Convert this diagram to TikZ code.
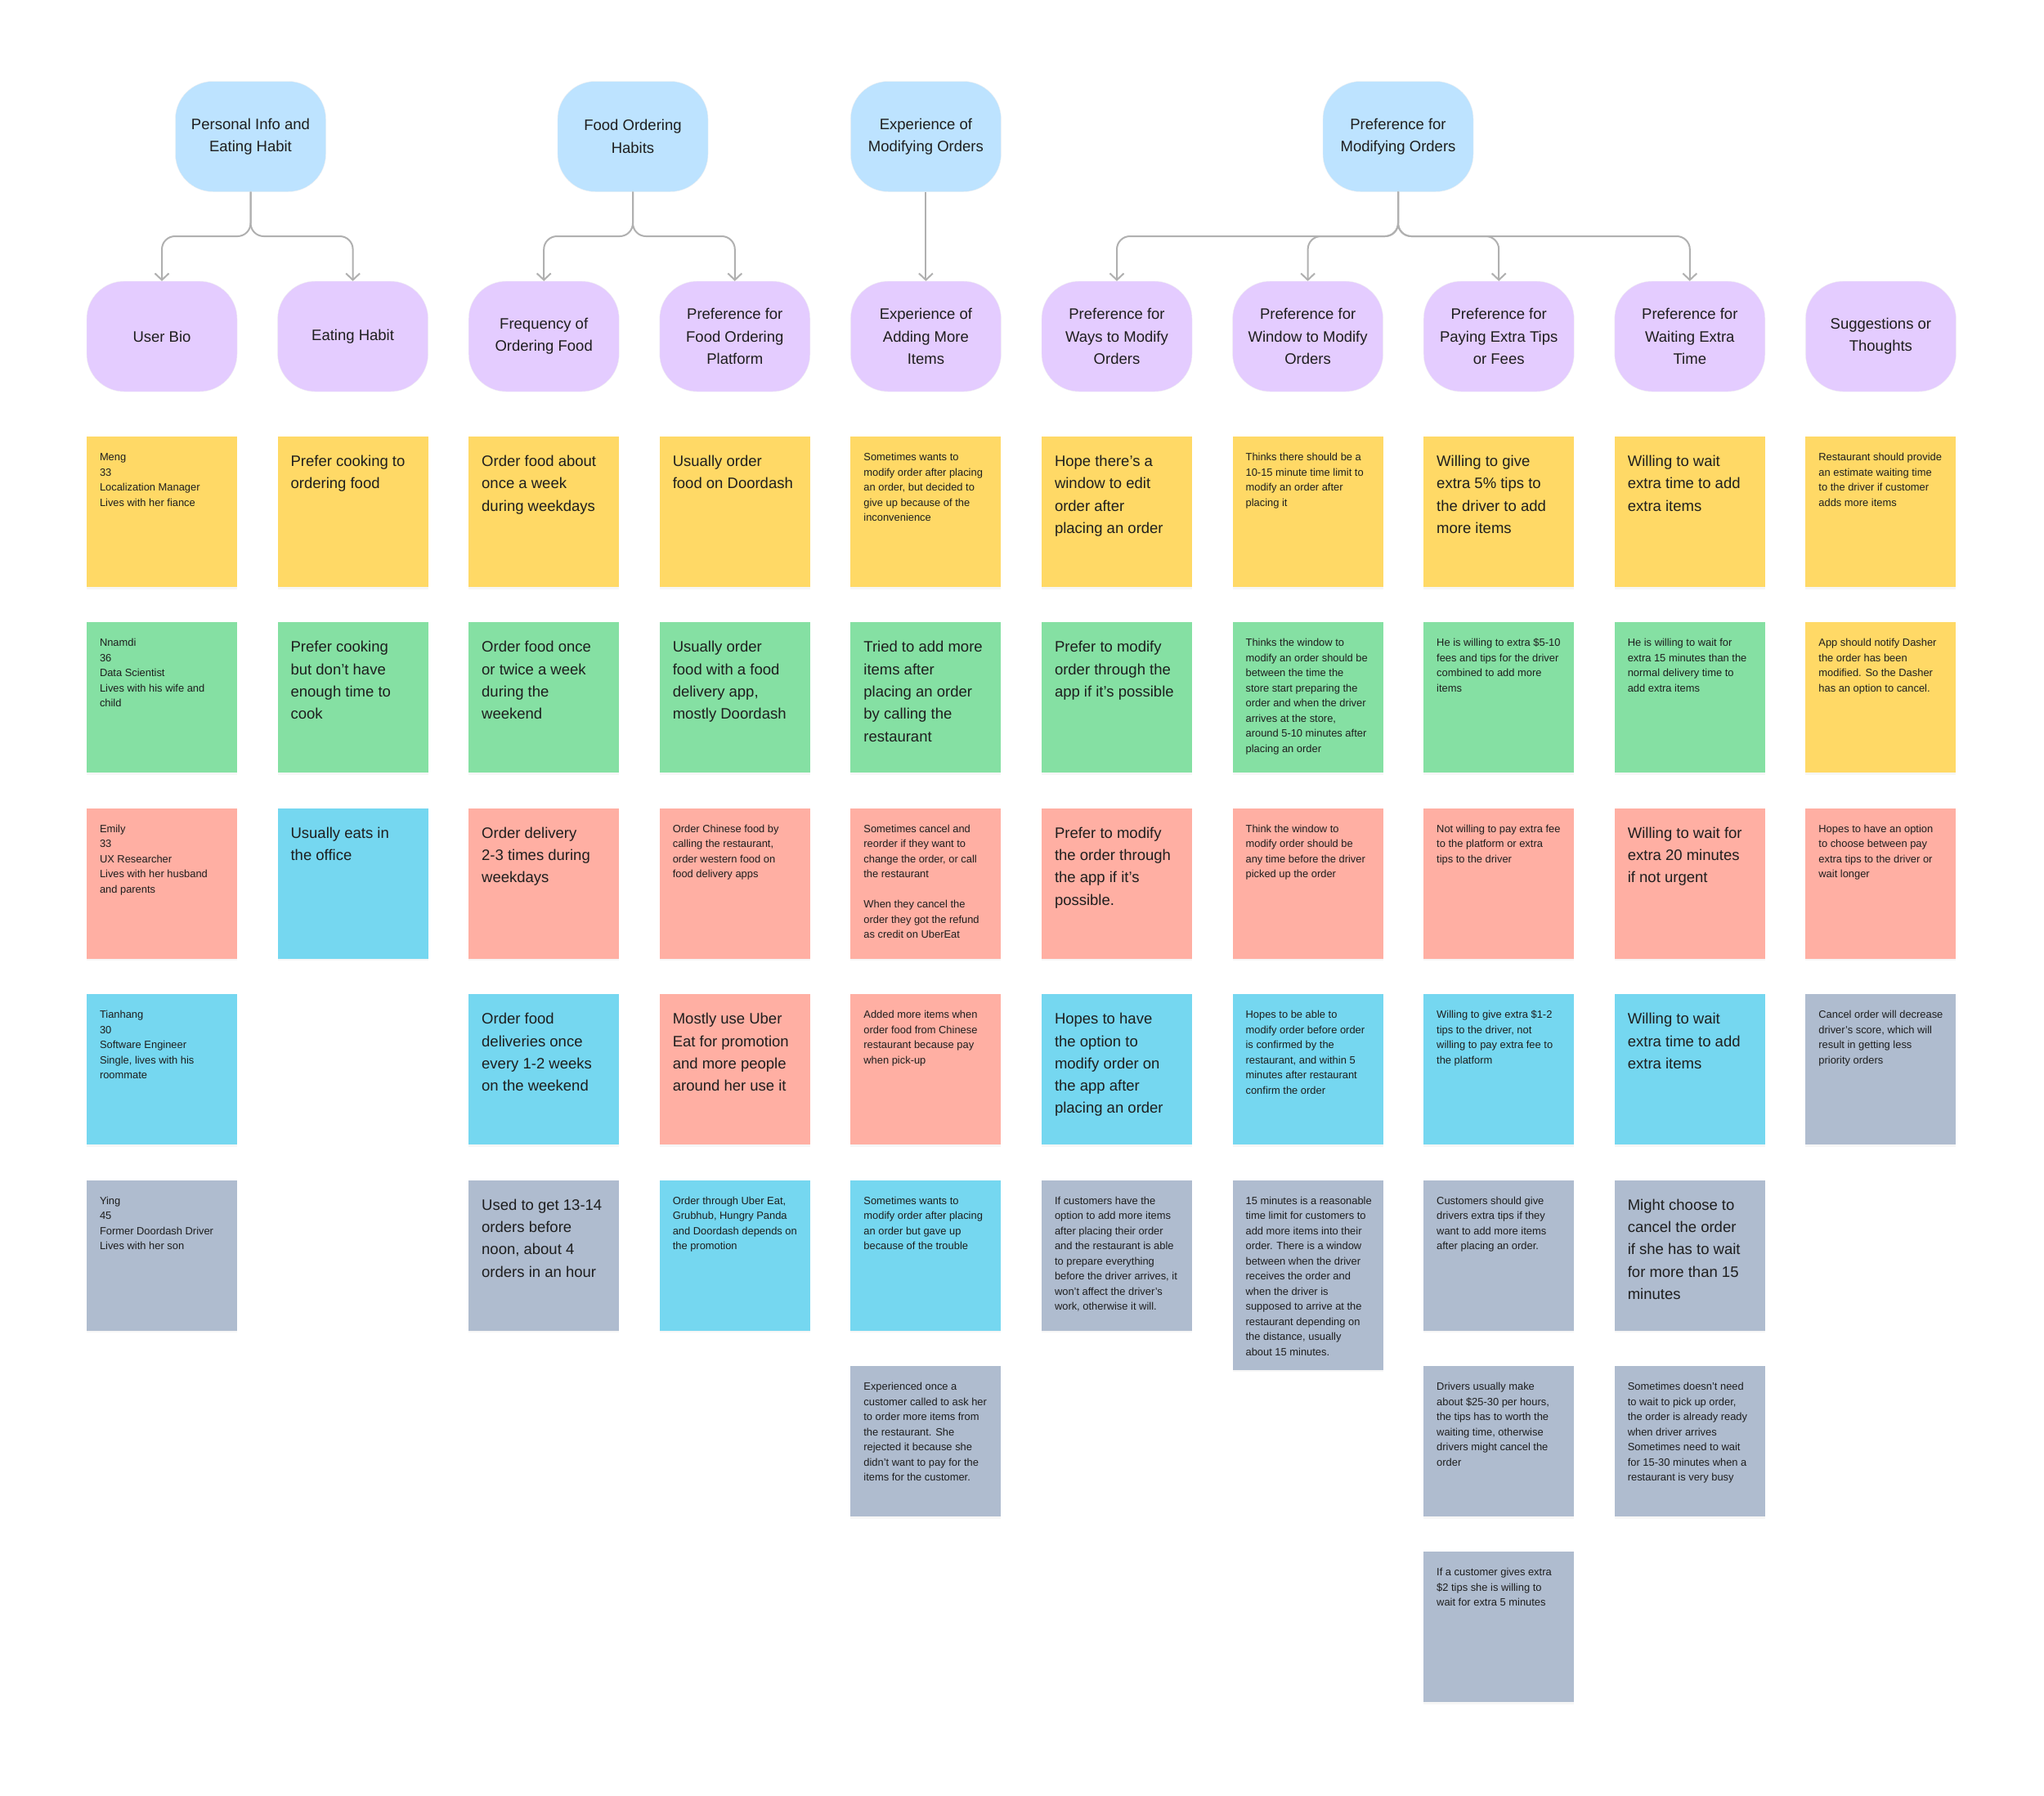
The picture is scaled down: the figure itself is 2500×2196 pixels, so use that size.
\documentclass[tikz,border=0pt]{standalone}
\usepackage{fontspec}
\setmainfont{Liberation Sans}
\usetikzlibrary{arrows.meta,shadows}
\definecolor{topicblue}{HTML}{BDE3FF}
\definecolor{catpurple}{HTML}{E4CCFF}
\definecolor{noteyellow}{HTML}{FFD966}
\definecolor{notegreen}{HTML}{85E0A3}
\definecolor{notered}{HTML}{FFAFA3}
\definecolor{noteblue}{HTML}{75D7F0}
\definecolor{notegray}{HTML}{AFBCCF}
\definecolor{inkgray}{HTML}{1E1E1E}
\definecolor{linegray}{HTML}{B0B0B0}

% sticky contents: fixed 184 x 184 box, text from the top left
\newcommand{\smallnote}[2][184pt]{\parbox[c][#1][t]{184pt}{\leftskip=16pt\rightskip=0pt plus 1fil\fontsize{12.9}{18.5}\selectfont\rule{0pt}{29.5pt}#2}}
\newcommand{\bignote}[1]{\parbox[c][184pt][t]{184pt}{\leftskip=16pt\rightskip=0pt plus 1fil\fontsize{18.5}{27.3}\selectfont\rule{0pt}{36.5pt}#1}}

\begin{document}
\begin{tikzpicture}[
  x=1pt, y=-1pt,
  >={Straight Barb[length=8pt,width=17pt]},
  every node/.style={text=inkgray},
  topic/.style={rectangle, rounded corners=46pt, fill=topicblue, draw=black!6, minimum width=184pt, minimum height=135pt, align=center, font=\fontsize{18.5}{27.3}\selectfont},
  cat/.style={topic, fill=catpurple},
  note/.style={rectangle, inner sep=0pt, drop shadow={shadow xshift=0pt, shadow yshift=-2.5pt, opacity=0.07}},
  yellownote/.style={note, fill=noteyellow},
  greennote/.style={note, fill=notegreen},
  rednote/.style={note, fill=notered},
  bluenote/.style={note, fill=noteblue},
  graynote/.style={note, fill=notegray},
  conn/.style={->, draw=linegray, line width=2pt, rounded corners=16pt},
]
\path[use as bounding box, fill=white] (0,0) rectangle (2500,2196);

% ---- topics (blue) ----
\node[topic] (t1) at (306.5,167) {Personal Info and\\Eating Habit};
\node[topic] (t2) at (774,167)   {Food Ordering\\Habits};
\node[topic] (t3) at (1132.4,167) {Experience of\\Modifying Orders};
\node[topic] (t4) at (1710,167)  {Preference for\\Modifying Orders};

% ---- categories (purple) ----
\node[cat] (c1)  at (198,411.5)    {User Bio};
\node[cat] (c2)  at (431.6,411.5)  {Eating Habit};
\node[cat] (c3)  at (665.2,411.5)  {Frequency of\\Ordering Food};
\node[cat] (c4)  at (898.8,411.5)  {Preference for\\Food Ordering\\Platform};
\node[cat] (c5)  at (1132.4,411.5) {Experience of\\Adding More\\Items};
\node[cat] (c6)  at (1366,411.5)   {Preference for\\Ways to Modify\\Orders};
\node[cat] (c7)  at (1599.6,411.5) {Preference for\\Window to Modify\\Orders};
\node[cat] (c8)  at (1833.2,411.5) {Preference for\\Paying Extra Tips\\or Fees};
\node[cat] (c9)  at (2066.8,411.5) {Preference for\\Waiting Extra\\Time};
\node[cat] (c10) at (2300.4,411.5) {Suggestions or\\Thoughts};

% ---- connectors ----
\coordinate (fA) at (306.5,289);
\coordinate (fB) at (774,289);
\coordinate (fD) at (1710,289);
\draw[conn] (t1.south) -- (fA) -| (c1.north);
\draw[conn] (t1.south) -- (fA) -| (c2.north);
\draw[conn] (t2.south) -- (fB) -| (c3.north);
\draw[conn] (t2.south) -- (fB) -| (c4.north);
\draw[conn] (t3.south) -- (c5.north);
\draw[conn] (t4.south) -- (fD) -| (c6.north);
\draw[conn] (t4.south) -- (fD) -| (c7.north);
\draw[conn] (t4.south) -- (fD) -| (c8.north);
\draw[conn] (t4.south) -- (fD) -| (c9.north);

% ---- user bio ----
\node[yellownote] (s1a) at (198,626)    {\smallnote{Meng\\33\\Localization Manager\\Lives with her fiance}};
\node[greennote]  (s1b) at (198,853.4)  {\smallnote{Nnamdi\\36\\Data Scientist\\Lives with his wife and\\child}};
\node[rednote]    (s1c) at (198,1080.8) {\smallnote{Emily\\33\\UX Researcher\\Lives with her husband\\and parents}};
\node[bluenote]   (s1d) at (198,1308.2) {\smallnote{Tianhang\\30\\Software Engineer\\Single, lives with his\\roommate}};
\node[graynote]   (s1e) at (198,1535.6) {\smallnote{Ying\\45\\Former Doordash Driver\\Lives with her son}};

% ---- eating habit ----
\node[yellownote] (s2a) at (431.6,626)    {\bignote{Prefer cooking to\\ordering food}};
\node[greennote]  (s2b) at (431.6,853.4)  {\bignote{Prefer cooking\\but don’t have\\enough time to\\cook}};
\node[bluenote]   (s2c) at (431.6,1080.8) {\bignote{Usually eats in\\the office}};

% ---- frequency ----
\node[yellownote] (s3a) at (665.2,626)    {\bignote{Order food about\\once a week\\during weekdays}};
\node[greennote]  (s3b) at (665.2,853.4)  {\bignote{Order food once\\or twice a week\\during the\\weekend}};
\node[rednote]    (s3c) at (665.2,1080.8) {\bignote{Order delivery\\2-3 times during\\weekdays}};
\node[bluenote]   (s3d) at (665.2,1308.2) {\bignote{Order food\\deliveries once\\every 1-2 weeks\\on the weekend}};
\node[graynote]   (s3e) at (665.2,1535.6) {\bignote{Used to get 13-14\\orders before\\noon, about 4\\orders in an hour}};

% ---- platform ----
\node[yellownote] (s4a) at (898.8,626)    {\bignote{Usually order\\food on Doordash}};
\node[greennote]  (s4b) at (898.8,853.4)  {\bignote{Usually order\\food with a food\\delivery app,\\mostly Doordash}};
\node[rednote]    (s4c) at (898.8,1080.8) {\smallnote{Order Chinese food by\\calling the restaurant,\\order western food on\\food delivery apps}};
\node[rednote]    (s4d) at (898.8,1308.2) {\bignote{Mostly use Uber\\Eat for promotion\\and more people\\around her use it}};
\node[bluenote]   (s4e) at (898.8,1535.6) {\smallnote{Order through Uber Eat,\\Grubhub, Hungry Panda\\and Doordash depends on\\the promotion}};

% ---- adding more items ----
\node[yellownote] (s5a) at (1132.4,626)    {\smallnote{Sometimes wants to\\modify order after placing\\an order, but decided to\\give up because of the\\inconvenience}};
\node[greennote]  (s5b) at (1132.4,853.4)  {\bignote{Tried to add more\\items after\\placing an order\\by calling the\\restaurant}};
\node[rednote]    (s5c) at (1132.4,1080.8) {\smallnote{Sometimes cancel and\\reorder if they want to\\change the order, or call\\the restaurant\\[18.5pt]When they cancel the\\order they got the refund\\as credit on UberEat}};
\node[rednote]    (s5d) at (1132.4,1308.2) {\smallnote{Added more items when\\order food from Chinese\\restaurant because pay\\when pick-up}};
\node[bluenote]   (s5e) at (1132.4,1535.6) {\smallnote{Sometimes wants to\\modify order after placing\\an order but gave up\\because of the trouble}};
\node[graynote]   (s5f) at (1132.4,1763)   {\smallnote{Experienced once a\\customer called to ask her\\to order more items from\\the restaurant. She\\rejected it because she\\didn’t want to pay for the\\items for the customer.}};

% ---- ways to modify ----
\node[yellownote] (s6a) at (1366,626)    {\bignote{Hope there’s a\\window to edit\\order after\\placing an order}};
\node[greennote]  (s6b) at (1366,853.4)  {\bignote{Prefer to modify\\order through the\\app if it’s possible}};
\node[rednote]    (s6c) at (1366,1080.8) {\bignote{Prefer to modify\\the order through\\the app if it’s\\possible.}};
\node[bluenote]   (s6d) at (1366,1308.2) {\bignote{Hopes to have\\the option to\\modify order on\\the app after\\placing an order}};
\node[graynote]   (s6e) at (1366,1535.6) {\smallnote{If customers have the\\option to add more items\\after placing their order\\and the restaurant is able\\to prepare everything\\before the driver arrives, it\\won’t affect the driver’s\\work, otherwise it will.}};

% ---- window to modify ----
\node[yellownote] (s7a) at (1599.6,626)    {\smallnote{Thinks there should be a\\10-15 minute time limit to\\modify an order after\\placing it}};
\node[greennote]  (s7b) at (1599.6,853.4)  {\smallnote{Thinks the window to\\modify an order should be\\between the time the\\store start preparing the\\order and when the driver\\arrives at the store,\\around 5-10 minutes after\\placing an order}};
\node[rednote]    (s7c) at (1599.6,1080.8) {\smallnote{Think the window to\\modify order should be\\any time before the driver\\picked up the order}};
\node[bluenote]   (s7d) at (1599.6,1308.2) {\smallnote{Hopes to be able to\\modify order before order\\is confirmed by the\\restaurant, and within 5\\minutes after restaurant\\confirm the order}};
\node[graynote]   (s7e) at (1599.6,1559.6) {\smallnote[232pt]{15 minutes is a reasonable\\time limit for customers to\\add more items into their\\order. There is a window\\between when the driver\\receives the order and\\when the driver is\\supposed to arrive at the\\restaurant depending on\\the distance, usually\\about 15 minutes.}};

% ---- extra tips or fees ----
\node[yellownote] (s8a) at (1833.2,626)    {\bignote{Willing to give\\extra 5\% tips to\\the driver to add\\more items}};
\node[greennote]  (s8b) at (1833.2,853.4)  {\smallnote{He is willing to extra \$5-10\\fees and tips for the driver\\combined to add more\\items}};
\node[rednote]    (s8c) at (1833.2,1080.8) {\smallnote{Not willing to pay extra fee\\to the platform or extra\\tips to the driver}};
\node[bluenote]   (s8d) at (1833.2,1308.2) {\smallnote{Willing to give extra \$1-2\\tips to the driver, not\\willing to pay extra fee to\\the platform}};
\node[graynote]   (s8e) at (1833.2,1535.6) {\smallnote{Customers should give\\drivers extra tips if they\\want to add more items\\after placing an order.}};
\node[graynote]   (s8f) at (1833.2,1763)   {\smallnote{Drivers usually make\\about \$25-30 per hours,\\the tips has to worth the\\waiting time, otherwise\\drivers might cancel the\\order}};
\node[graynote]   (s8g) at (1833.2,1990.4) {\smallnote{If a customer gives extra\\\$2 tips she is willing to\\wait for extra 5 minutes}};

% ---- waiting extra time ----
\node[yellownote] (s9a) at (2066.8,626)    {\bignote{Willing to wait\\extra time to add\\extra items}};
\node[greennote]  (s9b) at (2066.8,853.4)  {\smallnote{He is willing to wait for\\extra 15 minutes than the\\normal delivery time to\\add extra items}};
\node[rednote]    (s9c) at (2066.8,1080.8) {\bignote{Willing to wait for\\extra 20 minutes\\if not urgent}};
\node[bluenote]   (s9d) at (2066.8,1308.2) {\bignote{Willing to wait\\extra time to add\\extra items}};
\node[graynote]   (s9e) at (2066.8,1535.6) {\bignote{Might choose to\\cancel the order\\if she has to wait\\for more than 15\\minutes}};
\node[graynote]   (s9f) at (2066.8,1763)   {\smallnote{Sometimes doesn’t need\\to wait to pick up order,\\the order is already ready\\when driver arrives\\Sometimes need to wait\\for 15-30 minutes when a\\restaurant is very busy}};

% ---- suggestions ----
\node[yellownote] (s10a) at (2300.4,626)    {\smallnote{Restaurant should provide\\an estimate waiting time\\to the driver if customer\\adds more items}};
\node[yellownote] (s10b) at (2300.4,853.4)  {\smallnote{App should notify Dasher\\the order has been\\modified. So the Dasher\\has an option to cancel.}};
\node[rednote]    (s10c) at (2300.4,1080.8) {\smallnote{Hopes to have an option\\to choose between pay\\extra tips to the driver or\\wait longer}};
\node[graynote]   (s10d) at (2300.4,1308.2) {\smallnote{Cancel order will decrease\\driver’s score, which will\\result in getting less\\priority orders}};

\end{tikzpicture}
\end{document}
